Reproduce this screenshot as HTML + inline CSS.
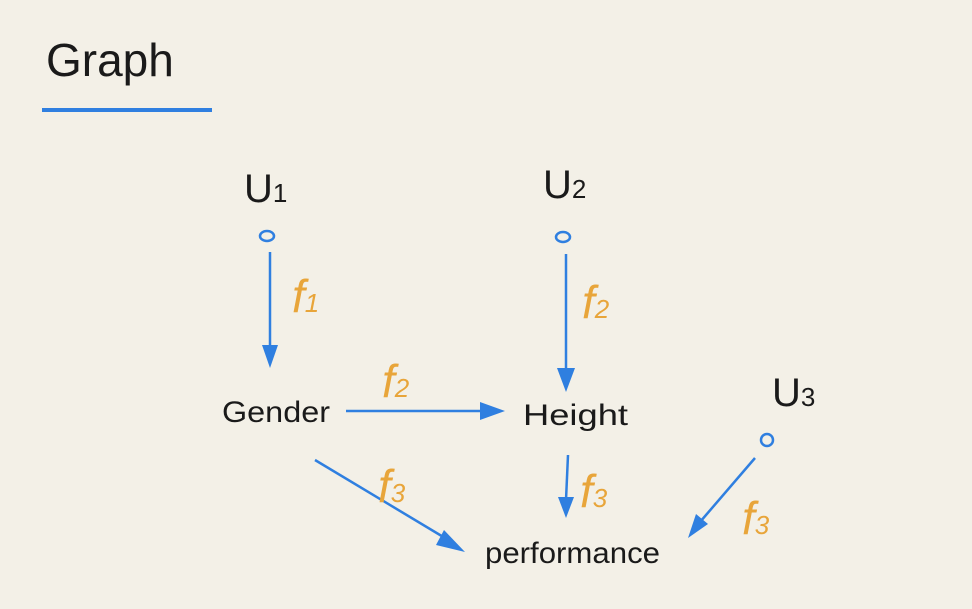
<!DOCTYPE html>
<html><head><meta charset="utf-8"><style>
html,body{margin:0;padding:0;background:#f3f0e7;}
svg{display:block}
text{font-family:"Liberation Sans","DejaVu Sans",sans-serif;}
</style></head><body>
<svg width="972" height="609" viewBox="0 0 972 609" xmlns="http://www.w3.org/2000/svg">
<rect width="972" height="609" fill="#f3f0e7"/>
<text x="46" y="76" font-size="46" fill="#1a1a1a">Graph</text>
<line x1="42" y1="110" x2="212" y2="110" stroke="#2f7fe0" stroke-width="4"/>
<g fill="#1a1a1a" font-size="40">
<text x="244" y="202">U<tspan font-size="26">1</tspan></text>
<text x="543" y="198">U<tspan font-size="26">2</tspan></text>
<text x="772" y="406">U<tspan font-size="26">3</tspan></text>
</g>
<g fill="none" stroke="#2f7fe0" stroke-width="2.5">
<ellipse cx="267" cy="236" rx="7" ry="5"/>
<ellipse cx="563" cy="237" rx="7" ry="5"/>
<ellipse cx="767" cy="440" rx="6" ry="6"/>
</g>
<g stroke="#2f7fe0" stroke-width="2.5" fill="none">
<line x1="270" y1="252" x2="270" y2="350"/>
<line x1="566" y1="254" x2="566" y2="372"/>
<line x1="346" y1="411" x2="485" y2="411"/>
<line x1="568" y1="455" x2="566" y2="500"/>
<line x1="315" y1="460" x2="445" y2="538"/>
<line x1="755" y1="458" x2="700" y2="522"/>
</g>
<g fill="#2f7fe0">
<path d="M262,345 L278,345 L270,368 z"/>
<path d="M557,368 L575,368 L566,392 z"/>
<path d="M480,402 L505,411 L480,420 z"/>
<path d="M558,497 L574,497 L566,518 z"/>
<path d="M444,530 L465,552 L436,545 z"/>
<path d="M688,538 L696,514 L708,524 z"/>
</g>
<g fill="#1a1a1a" font-size="30">
<text x="222" y="422" textLength="108" lengthAdjust="spacingAndGlyphs">Gender</text>
<text x="523" y="425" textLength="105" lengthAdjust="spacingAndGlyphs">Height</text>
<text x="485" y="563" textLength="175" lengthAdjust="spacingAndGlyphs">performance</text>
</g>
<g fill="#e8a53a" font-size="46" font-style="italic">
<text x="292" y="312">f<tspan font-size="26">1</tspan></text>
<text x="582" y="318">f<tspan font-size="26">2</tspan></text>
<text x="382" y="397">f<tspan font-size="26">2</tspan></text>
<text x="378" y="502">f<tspan font-size="26">3</tspan></text>
<text x="580" y="507">f<tspan font-size="26">3</tspan></text>
<text x="742" y="534">f<tspan font-size="26">3</tspan></text>
</g>
</svg>
</body></html>
